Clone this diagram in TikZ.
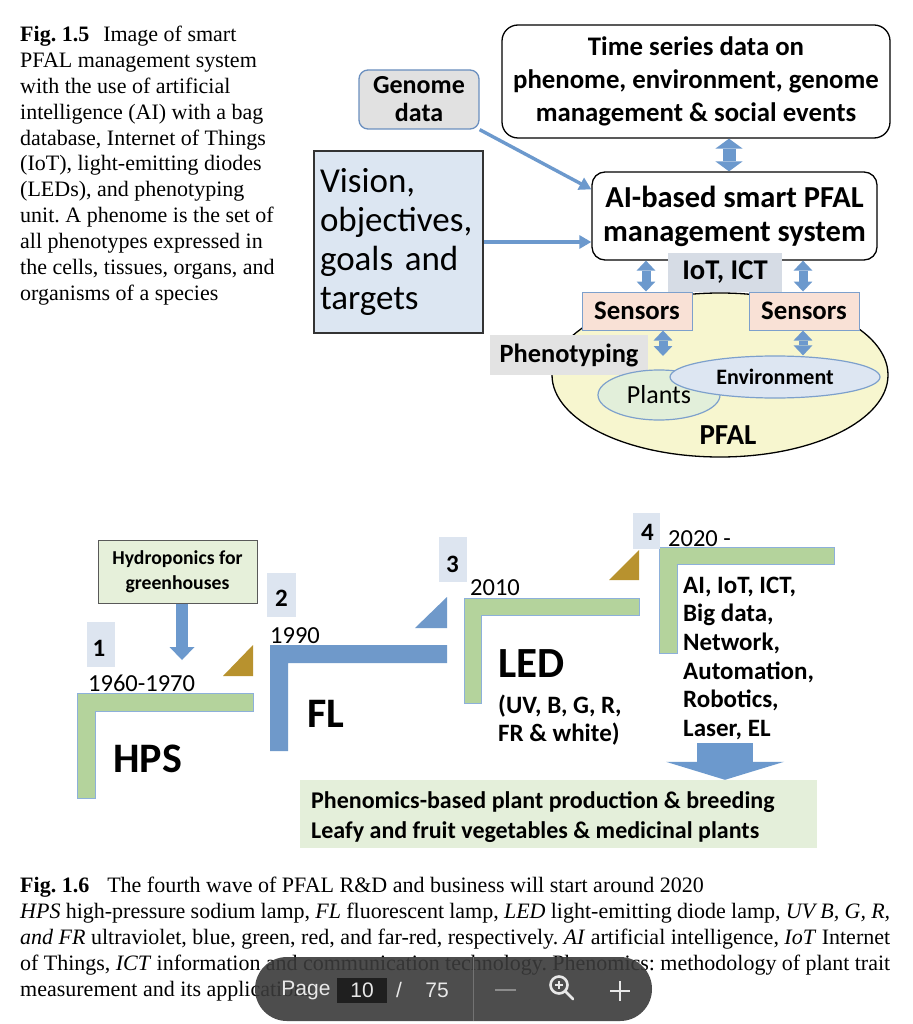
\documentclass[tikz,border=0pt]{standalone}
\usepackage{fontspec}
\setmainfont{Liberation Serif}
\newfontfamily\carl{Carlito}
\newfontfamily\uif{Liberation Sans}
\usetikzlibrary{arrows.meta,shapes.geometric,calc}
\newcommand\fsz[2]{\fontsize{#1pt}{#2pt}\selectfont}
\frenchspacing
\definecolor{arrblue}{RGB}{108,153,205}
\definecolor{lgreen}{RGB}{180,211,156}
\definecolor{lblue}{RGB}{111,153,202}
\definecolor{thinblue}{RGB}{141,176,218}
\definecolor{mybrown}{RGB}{184,146,46}
\definecolor{numbg}{RGB}{221,229,240}
\definecolor{hydbg}{RGB}{230,240,218}
\definecolor{outbg}{RGB}{228,239,218}
\definecolor{visbg}{RGB}{220,230,242}
\definecolor{genbg}{RGB}{225,225,225}
\definecolor{genbd}{RGB}{106,143,191}
\definecolor{iotbg}{RGB}{214,220,229}
\definecolor{phbg}{RGB}{227,227,227}
\definecolor{sensbg}{RGB}{249,225,214}
\definecolor{ellbd}{RGB}{125,160,204}
\definecolor{pfalbg}{RGB}{247,246,207}
\definecolor{plantbg}{RGB}{226,239,218}
\definecolor{envbg}{RGB}{221,230,242}
\definecolor{tbbg}{RGB}{58,58,58}
\definecolor{tbtext}{RGB}{232,232,232}
\begin{document}
\begin{tikzpicture}[x=1pt,y=-1pt,
  capline/.style={anchor=base west, inner sep=0pt, font=\frenchspacing\fsz{22}{25.8}},
  plainbox/.style={inner sep=0pt, align=center},
  thinarr/.style={draw=arrblue, line width=3.4pt, -{Triangle[width=13pt,length=12pt]}},
  dblarr/.style={draw=arrblue, line width=#1, {Triangle[width=2.1*#1,length=10pt,line width=0pt]}-{Triangle[width=2.1*#1,length=10pt,line width=0pt]}},
  numbox/.style={fill=numbg, inner sep=0pt},
  numtxt/.style={inner sep=0pt, font=\carl\bfseries\fsz{25}{25}},
  yeartxt/.style={anchor=base west, inner sep=0pt, font=\carl\fsz{24.5}{24.5}},
  lstyle/.style={anchor=base west, inner sep=0pt, font=\carl\bfseries\fsz{25}{25}}
]
\useasboundingbox (0,0) rectangle (912,1024);
\fill[white] (0,0) rectangle (912,1024);

% ---------- top caption ----------
\node[capline] (capa1) at (20,42) {\textbf{Fig. 1.5}\hspace{14pt}Image of smart};
\node[capline] (capa2) at (20,67.8) {PFAL management system};
\node[capline] (capa3) at (20,93.6) {with the use of artificial};
\node[capline] (capa4) at (20,119.4) {intelligence (AI) with a bag};
\node[capline] (capa5) at (20,145.2) {database, Internet of Things};
\node[capline] (capa6) at (20,171) {(IoT), light-emitting diodes};
\node[capline] (capa7) at (20,196.8) {(LEDs), and phenotyping};
\node[capline] (capa8) at (20,222.6) {unit. A phenome is the set of};
\node[capline] (capa9) at (20,248.4) {all phenotypes expressed in};
\node[capline] (capa10) at (20,274.2) {the cells, tissues, organs, and};
\node[capline] (capa11) at (20,300) {organisms of a species};

% ---------- top diagram ----------
\node[plainbox, draw=black, line width=1.3pt, rounded corners=16pt, fill=white,
  minimum width=388, minimum height=113, font=\carl\bfseries\fsz{26.8}{33}]
  (ts) at (696,81.5) {Time series data on\\phenome, environment, genome\\management \& social events};
\node[plainbox, draw=black, line width=1.3pt, rounded corners=13pt, fill=white,
  minimum width=285, minimum height=88, font=\carl\bfseries\fsz{30.5}{34}]
  (ai) at (734.5,216) {AI-based smart PFAL\\management system};
\node[plainbox, draw=genbd, line width=1.3pt, rounded corners=9pt, fill=genbg,
  minimum width=120, minimum height=59, font=\carl\bfseries\fsz{26}{28}]
  (genome) at (419,99.5) {Genome\\data};
\node[draw=black!80, line width=1.3pt, fill=visbg, inner sep=6pt, text width=157pt,
  minimum height=182, align=left, font=\carl\fsz{35}{39}]
  (vision) at (398.5,242) {Vision,\\objectives,\\goals and\\targets};

\draw[thinarr] (genome.south east) -- ($(ai.north west)+(0,18)$);
\draw[thinarr] (vision.east) -- (vision.east -| ai.west);
\draw[dblarr=13pt] (ts.south -| 729,0) -- (ai.north -| 729,0);

\node[ellipse, draw=black, line width=1.3pt, fill=pfalbg, minimum width=336, minimum height=164, inner sep=0pt] (pfal) at (720,375) {};
\node[plainbox, draw=ellbd, line width=1pt, fill=sensbg, minimum width=110, minimum height=38, font=\carl\bfseries\fsz{26.8}{26.8}] (sensl) at (637,311) {Sensors};
\node[plainbox, draw=ellbd, line width=1pt, fill=sensbg, minimum width=110, minimum height=38, font=\carl\bfseries\fsz{26.8}{26.8}] (sensr) at (804,311) {Sensors};
\node[plainbox, fill=iotbg, minimum width=114, minimum height=39, font=\carl\bfseries\fsz{28.6}{28.6}] (iot) at (725,272.5) {IoT, ICT};
\draw[dblarr=9pt] (ai.south -| 646,0) -- (sensl.north -| 646,0);
\draw[dblarr=9pt] (ai.south -| 803,0) -- (sensr.north -| 803,0);
\node[plainbox, fill=phbg, minimum width=158, minimum height=40, font=\carl\bfseries\fsz{26.4}{26.4}] (pheno) at (569,355) {Phenotyping};
\node[ellipse, draw=ellbd, line width=1.2pt, fill=plantbg, minimum width=122, minimum height=50, inner sep=0pt, font=\carl\fsz{26}{26}] (plants) at (659,395) {Plants};
\node[ellipse, draw=ellbd, line width=1.2pt, fill=envbg, minimum width=210, minimum height=42, inner sep=0pt, font=\carl\bfseries\fsz{22}{22}] (env) at (775,377) {Environment};
\coordinate (phenopt) at (663,356);
\draw[dblarr=9pt] (sensl.south -| 663,0) -- (phenopt);
\draw[dblarr=9pt] (sensr.south -| 803,0) -- (env.north -| 803,0);
\node[inner sep=0pt, font=\carl\bfseries\fsz{29}{29}] (pfaltxt) at (728,435) {PFAL};

% ---------- bottom diagram ----------
\node[plainbox, draw=black!65, line width=1pt, fill=hydbg, minimum width=159, minimum height=63, font=\carl\bfseries\fsz{19.7}{25}] (hydro) at (177.5,571.5) {Hydroponics for\\greenhouses};
\coordinate (hydroend) at (182,660);
\draw[draw=arrblue, line width=12pt, -{Triangle[width=25pt,length=13pt,line width=0pt]}] (hydro.south -| 182,0) -- (hydroend);

% L shapes
\filldraw[fill=lgreen, draw=thinblue, line width=0.8pt] (77,693) -- (253,693) -- (253,711) -- (95,711) -- (95,798) -- (77,798) -- cycle;
\fill[lblue] (270,645) -- (447,645) -- (447,663) -- (288,663) -- (288,751) -- (270,751) -- cycle;
\filldraw[fill=lgreen, draw=thinblue, line width=0.8pt] (464,598) -- (639,598) -- (639,615) -- (481,615) -- (481,703) -- (464,703) -- cycle;
\filldraw[fill=lgreen, draw=thinblue, line width=0.8pt] (659,547) -- (834,547) -- (834,564) -- (677,564) -- (677,653) -- (659,653) -- cycle;
% triangles
\fill[mybrown] (253,645) -- (253,676) -- (223,676) -- cycle;
\fill[lblue] (447,597) -- (447,628) -- (415,628) -- cycle;
\fill[mybrown] (639,550) -- (639,580) -- (609,580) -- cycle;

% number boxes
\node[numbox, minimum width=28, minimum height=45] (nb1) at (101,644.5) {};
\node[numtxt] (n1) at (99,648) {1};
\node[numbox, minimum width=29, minimum height=44] (nb2) at (281.5,595) {};
\node[numtxt] (n2) at (281.5,598.5) {2};
\node[numbox, minimum width=28, minimum height=45] (nb3) at (453,559.5) {};
\node[numtxt] (n3) at (452.5,564) {3};
\node[numbox, minimum width=27, minimum height=36] (nb4) at (646.5,531) {};
\node[numtxt] (n4) at (647.5,532) {4};

% years
\node[yeartxt] (y1) at (88,691) {1960-1970};
\node[yeartxt] (y2) at (270,643) {1990};
\node[yeartxt] (y3) at (470,595) {2010};
\node[yeartxt] (y4) at (668,546) {2020 -};

% big labels
\node[anchor=base west, inner sep=0pt, font=\carl\bfseries\fsz{42}{42}] (hps) at (113,772) {HPS};
\node[anchor=base west, inner sep=0pt, font=\carl\bfseries\fsz{42}{42}] (fl) at (307,727) {FL};
\node[anchor=base west, inner sep=0pt, font=\carl\bfseries\fsz{43}{43}] (led) at (498,677) {LED};
\node[lstyle] (uv1) at (498,713) {(UV, B, G, R,};
\node[lstyle] (uv2) at (498,741) {FR \& white)};

\node[lstyle] (t1) at (683,593) {AI, IoT, ICT,};
\node[lstyle] (t2) at (683,621.7) {Big data,};
\node[lstyle] (t3) at (683,650.4) {Network,};
\node[lstyle] (t4) at (683,679.1) {Automation,};
\node[lstyle] (t5) at (683,707.8) {Robotics,};
\node[lstyle] (t6) at (683,736.5) {Laser, EL};

\node[fill=outbg, inner sep=0pt, minimum width=517, minimum height=68] (out) at (558.5,814) {};
\node[anchor=base west, inner sep=0pt, font=\carl\bfseries\fsz{24}{24}] (o1) at (311,808) {Phenomics-based plant production \& breeding};
\node[anchor=base west, inner sep=0pt, font=\carl\bfseries\fsz{24}{24}] (o2) at (311,838) {Leafy and fruit vegetables \& medicinal plants};
\coordinate (bigstart) at (725,743);
\draw[draw=arrblue, line width=56pt, -{Triangle[width=118pt,length=18pt,line width=0pt]}] (bigstart) -- (out.north -| 725,0);

% ---------- bottom caption ----------
\node[capline] (capb1) at (20,892) {\textbf{Fig. 1.6}\hspace{18pt}The fourth wave of PFAL R\&D and business will start around 2020};
\node[capline] (capb2) at (20,918) {\makebox[870pt][s]{\textit{HPS} high-pressure sodium lamp, \textit{FL} fluorescent lamp, \textit{LED} light-emitting diode lamp, \textit{UV B, G, R,}}};
\node[capline] (capb3) at (20,944) {\makebox[870pt][s]{\textit{and FR} ultraviolet, blue, green, red, and far-red, respectively. \textit{AI} artificial intelligence, \textit{IoT} Internet}};
\node[capline] (capb4) at (20,970) {\makebox[870pt][s]{of Things, \textit{ICT} information and communication technology. Phenomics: methodology of plant trait}};
\node[capline] (capb5) at (20,996) {measurement and its applications.};

% ---------- viewer toolbar ----------
\node[fill=tbbg, fill opacity=0.9, rounded corners=32pt, minimum width=397, minimum height=64, inner sep=0pt] (tb) at (453.5,989) {};
\node[inner sep=0pt, text=tbtext, font=\uif\fsz{21}{21}] (pg) at (306,990) {Page};
\node[fill=black!88, minimum width=50, minimum height=25, inner sep=0pt, text=tbtext, font=\uif\fsz{21}{21}] (pnum) at (362,990) {10};
\node[inner sep=0pt, text=tbtext, font=\uif\fsz{21}{21}] (slash) at (399,990) {/};
\node[inner sep=0pt, text=tbtext, font=\uif\fsz{21}{21}] (tot) at (437,990) {75};
\draw[black!55, line width=1pt] (tb.north -| 473,0) -- (tb.south -| 473,0);
\draw[black!45, line width=2.6pt] (495,990) -- (516,990);
\draw[tbtext, line width=2.6pt] (559,985) circle (8.5pt);
\draw[tbtext, line width=2.2pt] (559,981) -- (559,989) (555,985) -- (563,985);
\draw[tbtext, line width=2.8pt, line cap=round] (565.5,991.5) -- (573,999);
\draw[tbtext, line width=2.8pt] (610,991) -- (630,991) (620,981) -- (620,1001);
\end{tikzpicture}
\end{document}
